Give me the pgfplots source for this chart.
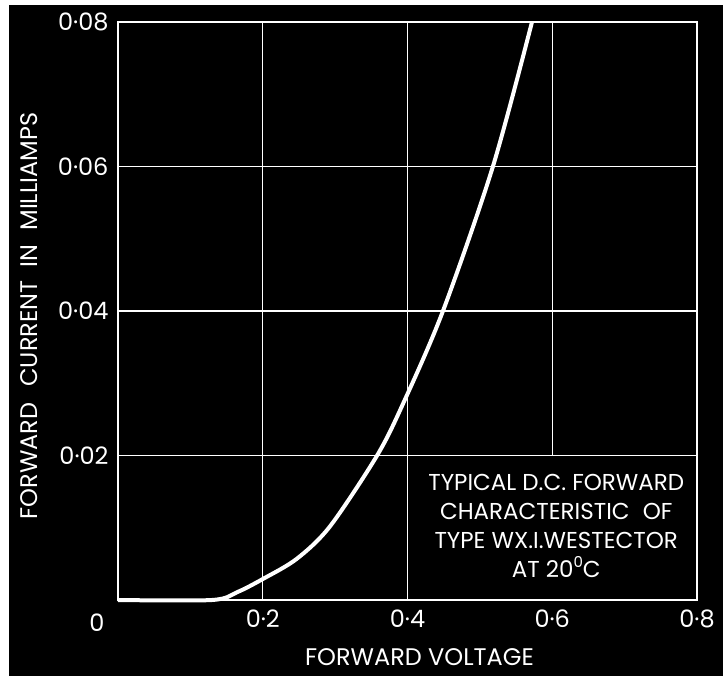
\documentclass[border=0pt]{standalone}
\usepackage{pgfplots}
\pgfplotsset{compat=1.18}
\usepackage{fontspec}
\setmainfont{Poppins}
\begin{document}
\begin{tikzpicture}
\fill[white] (0,0) rectangle (725pt,676pt);
\fill[black] (9pt,0) rectangle (723pt,671pt);
\begin{axis}[
  at={(118pt,76pt)}, anchor=south west,
  scale only axis, width=579pt, height=578pt,
  xmin=0, xmax=0.8, ymin=0, ymax=0.08,
  scaled x ticks=false, scaled y ticks=false,
  xtick={0.2,0.4,0.6,0.8}, ytick={0.02,0.04,0.06,0.08},
  xticklabels={0·2,0·4,0·6,0·8},
  yticklabels={0·02,0·04,0·06,0·08},
  major tick length=0pt,
  axis line style={white, line width=1.6pt},
  tick label style={white, font=\fontsize{24}{24}\selectfont},
  xticklabel style={yshift=-6pt},
  yticklabel style={xshift=-6pt},
  xlabel={FORWARD VOLTAGE},
  ylabel={FORWARD\hspace{0.4em} CURRENT\hspace{0.3em} IN\hspace{0.3em} MILLIAMPS},
  label style={white, font=\fontsize{24}{24}\selectfont},
  xlabel style={at={(axis description cs:0.5,0)}, anchor=north, yshift=-45pt, xshift=12pt},
  ylabel style={at={(axis description cs:0,0.5)}, anchor=south, xshift=-5pt, yshift=77pt},
  clip=false,
]
\draw[white, line width=1.2pt] (axis cs:0.2,0) -- (axis cs:0.2,0.08);
\draw[white, line width=1.2pt] (axis cs:0.4,0) -- (axis cs:0.4,0.08);
\draw[white, line width=1.2pt] (axis cs:0.6,0.02) -- (axis cs:0.6,0.08);
\draw[white, line width=1.2pt] (axis cs:0,0.02) -- (axis cs:0.8,0.02);
\draw[white, line width=1.2pt] (axis cs:0,0.04) -- (axis cs:0.8,0.04);
\draw[white, line width=1.2pt] (axis cs:0,0.06) -- (axis cs:0.8,0.06);
\addplot[white, line width=4pt, smooth, tension=0.5] coordinates {
  (0,0) (0.13,0) (0.165,0.0011) (0.2,0.0029) (0.247,0.0057) (0.293,0.0102)
  (0.358,0.0200) (0.394,0.0272) (0.449,0.0400) (0.518,0.0600) (0.572,0.0800)
};
\node[white, font=\fontsize{24}{24}\selectfont] at (axis cs:0,0) [xshift=-21pt, yshift=-23pt] {0};
\node[white, font=\fontsize{23}{29}\selectfont, align=center] at (axis cs:0.6,0.01) [xshift=4pt, yshift=2pt]
  {TYPICAL D.C. FORWARD\\CHARACTERISTIC\hspace{0.3em} OF\\TYPE WX.I.WESTECTOR\\AT 20\raisebox{0.75ex}{\fontsize{15}{15}\selectfont 0}C};
\end{axis}
\end{tikzpicture}
\end{document}
